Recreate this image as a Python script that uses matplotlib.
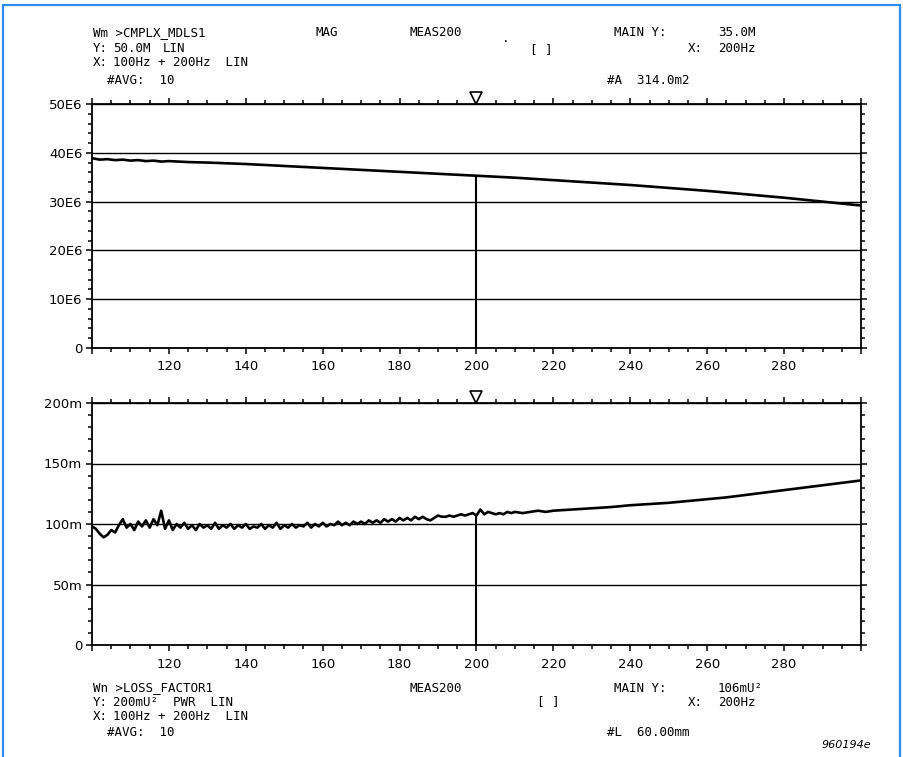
import matplotlib
matplotlib.use("Agg")
import matplotlib.pyplot as plt
import matplotlib.transforms as mtransforms
from matplotlib.patches import Rectangle
from matplotlib.ticker import MultipleLocator, FuncFormatter

# upper trace: complex modulus magnitude (units of 1E6)
freq_mag = [100, 102, 104, 106, 108, 110, 112, 114, 116, 118, 120, 125, 130, 135,
            140, 150, 160, 170, 180, 190, 200, 210, 220, 230, 240, 250, 260,
            270, 280, 290, 300]
mag_values = [38.9, 38.6, 38.7, 38.5, 38.6, 38.4, 38.5, 38.3, 38.4, 38.2, 38.3,
              38.1, 38.0, 37.85, 37.7, 37.3, 36.9, 36.5, 36.1, 35.7, 35.3, 34.9,
              34.4, 33.9, 33.4, 32.8, 32.2, 31.5, 30.8, 30.0, 29.2]

# lower trace: loss factor (units of 1E-3)
freq_loss = list(range(100, 211)) + [212, 214, 216, 218, 220, 225, 230, 235, 240,
                                     245, 250, 255, 260, 265, 270, 275, 280, 285,
                                     290, 295, 300]
loss_values = [
    98, 96, 92, 89, 91, 95, 93, 99, 104, 97,
    100, 95, 102, 98, 103, 97, 104, 99, 111, 96,
    103, 95, 100, 97, 101, 96, 99, 95, 100, 97,
    99, 96, 101, 96, 99, 97, 100, 96, 99, 97,
    100, 96, 98, 97, 100, 96, 99, 97, 101, 96,
    99, 97, 100, 97, 99, 98, 101, 97, 100, 98,
    101, 98, 100, 99, 102, 99, 101, 99, 102, 100,
    102, 100, 103, 101, 103, 101, 104, 102, 104, 102,
    105, 103, 105, 103, 106, 104, 106, 104, 103, 105,
    107, 106, 106, 107, 106, 107, 108, 107, 108, 109,
    107, 112, 108, 110, 109, 108, 109, 108, 110, 109,
    110,
    109, 110, 111, 110, 111, 112, 113, 114, 115.5,
    116.5, 117.5, 119, 120.5, 122, 124, 126, 128, 130,
    132, 134, 136,
]

cursor_freq = 200
cursor_mag = 35.3
cursor_loss = 107
x_tick_values = [100, 120, 140, 160, 180, 200, 220, 240, 260, 280, 300]
mag_ticks = [0, 10, 20, 30, 40, 50]
mag_tick_labels = ["0", "10E6", "20E6", "30E6", "40E6", "50E6"]
loss_ticks = [0, 50, 100, 150, 200]
loss_tick_labels = ["0", "50m", "100m", "150m", "200m"]

W, H = 904, 757
fig = plt.figure(figsize=(W / 100, H / 100), dpi=100)
fig.patch.set_facecolor("white")


def px(x, y):
    return x / W, 1 - y / H


def panel(rect, ymax, yticks, ylabels, yminor, fx, fy, cur_y):
    ax = fig.add_axes(rect)
    ax.plot(fx, fy, color="black", linewidth=1.9, zorder=3)
    ax.vlines(cursor_freq, 0, cur_y, color="black", linewidth=1.5, zorder=3)
    ax.set_xlim(100, 300)
    ax.set_ylim(0, ymax)
    ax.set_xticks(x_tick_values)
    ax.xaxis.set_minor_locator(MultipleLocator(5))
    ax.xaxis.set_major_formatter(
        FuncFormatter(lambda v, p: "" if v in (100, 300) else f"{v:.0f}"))
    ax.set_yticks(yticks)
    ax.set_yticklabels(ylabels)
    ax.yaxis.set_minor_locator(MultipleLocator(yminor))
    ax.tick_params(which="both", direction="out", top=True, right=True,
                   color="black", width=1.1, labelsize=9.5)
    ax.tick_params(which="major", length=4)
    ax.tick_params(which="minor", length=2.6)
    ax.tick_params(axis="x", pad=5)
    ax.tick_params(axis="y", pad=3)
    ax.grid(axis="y", which="major", color="black", linewidth=1.0)
    for s in ax.spines.values():
        s.set_linewidth(1.3)
    trans = mtransforms.blended_transform_factory(ax.transData, ax.transAxes)
    ax.plot([cursor_freq], [1.026], marker="v", markersize=8, mfc="white",
            mec="black", mew=1.2, transform=trans, clip_on=False, zorder=5)
    return ax


x0, y0 = px(92, 348)
x1, y1 = px(861, 104)
panel([x0, y0, x1 - x0, y1 - y0], 50, mag_ticks, mag_tick_labels, 2,
      freq_mag, mag_values, cursor_mag)

x0, y0 = px(92, 645)
x1, y1 = px(861, 403)
panel([x0, y0, x1 - x0, y1 - y0], 200, loss_ticks, loss_tick_labels, 10,
      freq_loss, loss_values, cursor_loss)

mono = dict(family="DejaVu Sans Mono", fontsize=9, va="center", color="black")


def hdr(x, y, s, **kw):
    fx, fy = px(x, y)
    opts = dict(mono)
    opts.update(kw)
    fig.text(fx, fy, s, **opts)


# upper header
hdr(93, 33, "Wm >CMPLX_MDLS1")
hdr(315, 33, "MAG")
hdr(410, 33, "MEAS200")
hdr(502, 38, ".")
hdr(614, 33, "MAIN Y:")
hdr(718, 33, "35.0M")
hdr(93, 48, "Y:")
hdr(113, 48, "50.0M")
hdr(163, 48, "LIN")
hdr(530, 50, "[ ]")
hdr(688, 48, "X:")
hdr(718, 48, "200Hz")
hdr(93, 62, "X:")
hdr(113, 62, "100Hz + 200Hz  LIN")
hdr(107, 80, "#AVG:  10")
hdr(607, 80, "#A  314.0m2")

# lower header
hdr(93, 688, "Wn >LOSS_FACTOR1")
hdr(410, 688, "MEAS200")
hdr(614, 688, "MAIN Y:")
hdr(718, 688, "106mU²")
hdr(93, 702, "Y:")
hdr(113, 702, "200mU²  PWR  LIN")
hdr(537, 702, "[ ]")
hdr(688, 702, "X:")
hdr(718, 702, "200Hz")
hdr(93, 716, "X:")
hdr(113, 716, "100Hz + 200Hz  LIN")
hdr(107, 733, "#AVG:  10")
hdr(607, 733, "#L  60.00mm")

fx, fy = px(871, 745)
fig.text(fx, fy, "960194e", fontsize=8, style="italic", ha="right", va="center",
         family="DejaVu Sans")

# blue frame
fig.patches.append(Rectangle((3 / W, -0.05), (900 - 3) / W, 1 - 5 / H + 0.05,
                             transform=fig.transFigure, fill=False,
                             edgecolor="#2D8CF0", linewidth=1.6))

fig.savefig("out.png", dpi=100, facecolor="white")
